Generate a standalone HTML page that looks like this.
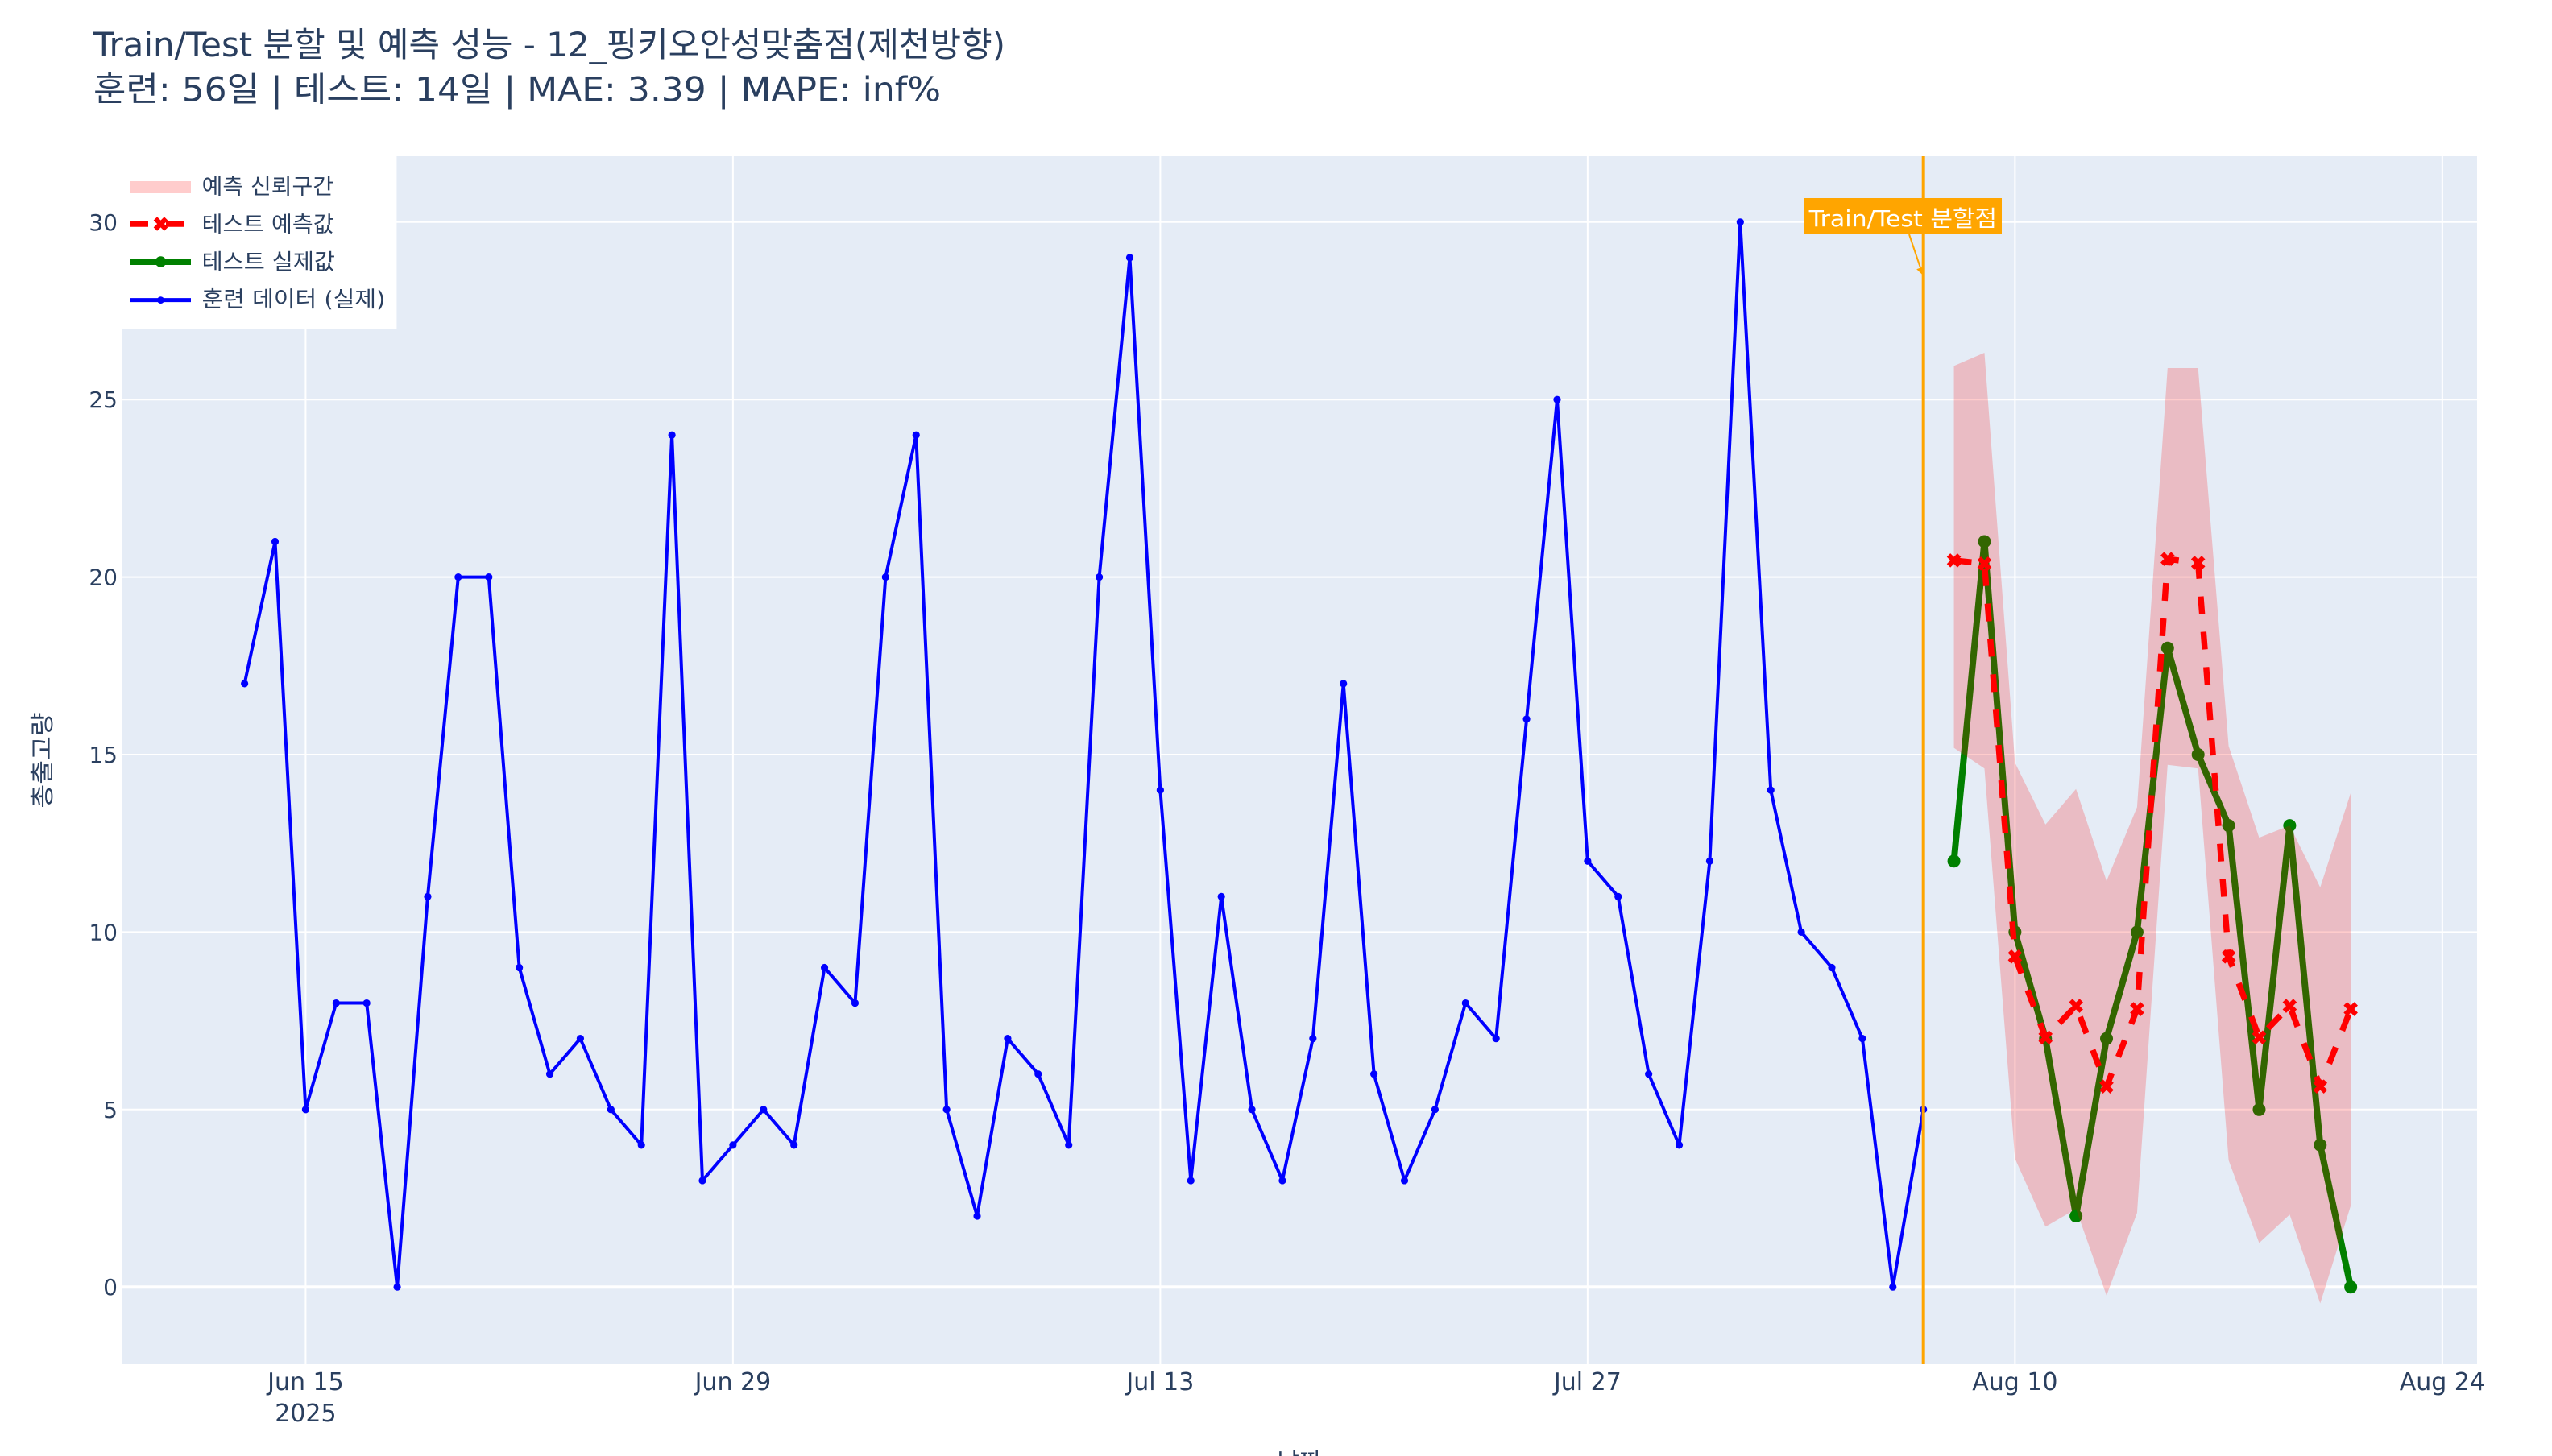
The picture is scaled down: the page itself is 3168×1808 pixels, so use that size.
<!DOCTYPE html>
<html>
<head>
<meta charset="utf-8">
<style>
html,body{margin:0;padding:0;background:#fff;}
svg{display:block;}
text{font-family:"DejaVu Sans","Noto Sans CJK KR",sans-serif;}
</style>
</head>
<body>
<svg xmlns="http://www.w3.org/2000/svg" width="3168" height="1808" viewBox="0 0 1584 904">
<defs>
<clipPath id="pc"><rect x="75.5" y="97" width="1462" height="750"/></clipPath>
<path id="xm" d="M0,2.2l2.2,2.2l2.2,-2.2l-2.2,-2.2l2.2,-2.2l-2.2,-2.2l-2.2,2.2l-2.2,-2.2l-2.2,2.2l2.2,2.2l-2.2,2.2l2.2,2.2Z" fill="#ff0000"/>
</defs>
<rect x="0" y="0" width="1584" height="904" fill="#ffffff"/>
<!-- plot background -->
<rect x="75.5" y="97" width="1462" height="750" fill="#E5ECF6"/>
<!-- vertical grid -->
<g stroke="#ffffff" stroke-width="1">
<line x1="189.70" y1="97" x2="189.70" y2="847"/>
<line x1="454.94" y1="97" x2="454.94" y2="847"/>
<line x1="720.19" y1="97" x2="720.19" y2="847"/>
<line x1="985.43" y1="97" x2="985.43" y2="847"/>
<line x1="1250.68" y1="97" x2="1250.68" y2="847"/>
<line x1="1515.92" y1="97" x2="1515.92" y2="847"/>
<line x1="75.5" y1="688.9" x2="1537.5" y2="688.9"/>
<line x1="75.5" y1="578.7" x2="1537.5" y2="578.7"/>
<line x1="75.5" y1="468.5" x2="1537.5" y2="468.5"/>
<line x1="75.5" y1="358.3" x2="1537.5" y2="358.3"/>
<line x1="75.5" y1="248.1" x2="1537.5" y2="248.1"/>
<line x1="75.5" y1="137.9" x2="1537.5" y2="137.9"/>
</g>
<line x1="75.5" y1="799.1" x2="1537.5" y2="799.1" stroke="#ffffff" stroke-width="2"/>

<g clip-path="url(#pc)">
<!-- training line -->
<polyline fill="none" stroke="#0000ff" stroke-width="2" stroke-linejoin="round" points="151.81,424.42 170.75,336.26 189.70,688.90 208.65,622.78 227.59,622.78 246.54,799.10 265.48,556.66 284.43,358.30 303.38,358.30 322.32,600.74 341.27,666.86 360.21,644.82 379.16,688.90 398.11,710.94 417.05,270.14 436.00,732.98 454.94,710.94 473.89,688.90 492.84,710.94 511.78,600.74 530.73,622.78 549.67,358.30 568.62,270.14 587.57,688.90 606.51,755.02 625.46,644.82 644.40,666.86 663.35,710.94 682.30,358.30 701.24,159.94 720.19,490.54 739.13,732.98 758.08,556.66 777.03,688.90 795.97,732.98 814.92,644.82 833.86,424.42 852.81,666.86 871.76,732.98 890.70,688.90 909.65,622.78 928.59,644.82 947.54,446.46 966.49,248.10 985.43,534.62 1004.38,556.66 1023.32,666.86 1042.27,710.94 1061.22,534.62 1080.16,137.90 1099.11,490.54 1118.05,578.70 1137.00,600.74 1155.95,644.82 1174.89,799.10 1193.84,688.90"/>
<g fill="#0000ff">
<circle cx="151.81" cy="424.42" r="2.3"/><circle cx="170.75" cy="336.26" r="2.3"/><circle cx="189.70" cy="688.90" r="2.3"/><circle cx="208.65" cy="622.78" r="2.3"/><circle cx="227.59" cy="622.78" r="2.3"/><circle cx="246.54" cy="799.10" r="2.3"/><circle cx="265.48" cy="556.66" r="2.3"/><circle cx="284.43" cy="358.30" r="2.3"/><circle cx="303.38" cy="358.30" r="2.3"/><circle cx="322.32" cy="600.74" r="2.3"/><circle cx="341.27" cy="666.86" r="2.3"/><circle cx="360.21" cy="644.82" r="2.3"/><circle cx="379.16" cy="688.90" r="2.3"/><circle cx="398.11" cy="710.94" r="2.3"/><circle cx="417.05" cy="270.14" r="2.3"/><circle cx="436.00" cy="732.98" r="2.3"/><circle cx="454.94" cy="710.94" r="2.3"/><circle cx="473.89" cy="688.90" r="2.3"/><circle cx="492.84" cy="710.94" r="2.3"/><circle cx="511.78" cy="600.74" r="2.3"/><circle cx="530.73" cy="622.78" r="2.3"/><circle cx="549.67" cy="358.30" r="2.3"/><circle cx="568.62" cy="270.14" r="2.3"/><circle cx="587.57" cy="688.90" r="2.3"/><circle cx="606.51" cy="755.02" r="2.3"/><circle cx="625.46" cy="644.82" r="2.3"/><circle cx="644.40" cy="666.86" r="2.3"/><circle cx="663.35" cy="710.94" r="2.3"/><circle cx="682.30" cy="358.30" r="2.3"/><circle cx="701.24" cy="159.94" r="2.3"/><circle cx="720.19" cy="490.54" r="2.3"/><circle cx="739.13" cy="732.98" r="2.3"/><circle cx="758.08" cy="556.66" r="2.3"/><circle cx="777.03" cy="688.90" r="2.3"/><circle cx="795.97" cy="732.98" r="2.3"/><circle cx="814.92" cy="644.82" r="2.3"/><circle cx="833.86" cy="424.42" r="2.3"/><circle cx="852.81" cy="666.86" r="2.3"/><circle cx="871.76" cy="732.98" r="2.3"/><circle cx="890.70" cy="688.90" r="2.3"/><circle cx="909.65" cy="622.78" r="2.3"/><circle cx="928.59" cy="644.82" r="2.3"/><circle cx="947.54" cy="446.46" r="2.3"/><circle cx="966.49" cy="248.10" r="2.3"/><circle cx="985.43" cy="534.62" r="2.3"/><circle cx="1004.38" cy="556.66" r="2.3"/><circle cx="1023.32" cy="666.86" r="2.3"/><circle cx="1042.27" cy="710.94" r="2.3"/><circle cx="1061.22" cy="534.62" r="2.3"/><circle cx="1080.16" cy="137.90" r="2.3"/><circle cx="1099.11" cy="490.54" r="2.3"/><circle cx="1118.05" cy="578.70" r="2.3"/><circle cx="1137.00" cy="600.74" r="2.3"/><circle cx="1155.95" cy="644.82" r="2.3"/><circle cx="1174.89" cy="799.10" r="2.3"/><circle cx="1193.84" cy="688.90" r="2.3"/>
</g>

<!-- test actual -->
<polyline fill="none" stroke="#008000" stroke-width="4" stroke-linejoin="round" points="1212.78,534.62 1231.73,336.26 1250.68,578.70 1269.62,644.82 1288.57,755.02 1307.51,644.82 1326.46,578.70 1345.41,402.38 1364.35,468.50 1383.30,512.58 1402.24,688.90 1421.19,512.58 1440.14,710.94 1459.08,799.10"/>
<g fill="#008000">
<circle cx="1212.78" cy="534.62" r="4"/><circle cx="1231.73" cy="336.26" r="4"/><circle cx="1250.68" cy="578.70" r="4"/><circle cx="1269.62" cy="644.82" r="4"/><circle cx="1288.57" cy="755.02" r="4"/><circle cx="1307.51" cy="644.82" r="4"/><circle cx="1326.46" cy="578.70" r="4"/><circle cx="1345.41" cy="402.38" r="4"/><circle cx="1364.35" cy="468.50" r="4"/><circle cx="1383.30" cy="512.58" r="4"/><circle cx="1402.24" cy="688.90" r="4"/><circle cx="1421.19" cy="512.58" r="4"/><circle cx="1440.14" cy="710.94" r="4"/><circle cx="1459.08" cy="799.10" r="4"/>
</g>

<!-- confidence band -->
<polygon fill="rgba(255,0,0,0.2)" points="1212.78,227.16 1231.73,219.01 1250.68,473.57 1269.62,511.92 1288.57,489.88 1307.51,546.96 1326.46,501.12 1345.41,228.48 1364.35,228.48 1383.30,463.21 1402.24,520.07 1421.19,512.58 1440.14,550.93 1459.08,492.30 1459.08,748.63 1440.14,809.24 1421.19,754.14 1402.24,771.77 1383.30,720.42 1364.35,477.10 1345.41,474.89 1326.46,753.04 1307.51,804.39 1288.57,750.60 1269.62,761.63 1250.68,719.32 1231.73,477.10 1212.78,464.31"/>

<!-- prediction -->
<polyline fill="none" stroke="#ff0000" stroke-width="3.7" stroke-dasharray="11,11" stroke-linejoin="round" points="1212.78,347.94 1231.73,349.92 1250.68,593.91 1269.62,644.16 1288.57,624.54 1307.51,674.57 1326.46,626.53 1345.41,347.06 1364.35,349.48 1383.30,593.91 1402.24,644.16 1421.19,624.54 1440.14,674.57 1459.08,626.53"/>
<use href="#xm" x="1212.78" y="347.94"/><use href="#xm" x="1231.73" y="349.92"/><use href="#xm" x="1250.68" y="593.91"/><use href="#xm" x="1269.62" y="644.16"/><use href="#xm" x="1288.57" y="624.54"/><use href="#xm" x="1307.51" y="674.57"/><use href="#xm" x="1326.46" y="626.53"/><use href="#xm" x="1345.41" y="347.06"/><use href="#xm" x="1364.35" y="349.48"/><use href="#xm" x="1383.30" y="593.91"/><use href="#xm" x="1402.24" y="644.16"/><use href="#xm" x="1421.19" y="624.54"/><use href="#xm" x="1440.14" y="674.57"/><use href="#xm" x="1459.08" y="626.53"/>
</g>

<!-- split line -->
<line x1="1193.84" y1="97" x2="1193.84" y2="847" stroke="#FFA500" stroke-width="2"/>

<!-- annotation -->
<line x1="1185" y1="145.5" x2="1192" y2="166.3" stroke="#FFA500" stroke-width="1"/>
<polygon points="1193.7,171 1194.6,165.4 1189.6,167.1" fill="#FFA500"/>
<rect x="1120" y="123" width="122.5" height="22.5" fill="#FFA500"/>
<text x="1181.2" y="140.6" font-size="14" fill="#ffffff" text-anchor="middle" textLength="116.7" lengthAdjust="spacingAndGlyphs">Train/Test 분할점</text>

<!-- y tick labels -->
<g font-size="14" fill="#2a3f5f" text-anchor="end">
<text x="73" y="804.1">0</text>
<text x="73" y="693.9">5</text>
<text x="73" y="583.7">10</text>
<text x="73" y="473.5">15</text>
<text x="73" y="363.3">20</text>
<text x="73" y="253.1">25</text>
<text x="73" y="142.9">30</text>
</g>

<!-- x tick labels -->
<g font-size="15" fill="#2a3f5f" text-anchor="middle">
<text x="189.70" y="863">Jun 15</text>
<text x="189.70" y="882.5">2025</text>
<text x="454.94" y="863">Jun 29</text>
<text x="720.19" y="863">Jul 13</text>
<text x="985.43" y="863">Jul 27</text>
<text x="1250.68" y="863">Aug 10</text>
<text x="1515.92" y="863">Aug 24</text>
</g>

<!-- axis titles -->
<text transform="translate(31.5,472) rotate(-90)" font-size="15" fill="#2a3f5f" text-anchor="middle" textLength="59.6" lengthAdjust="spacingAndGlyphs">총출고량</text>
<text x="806.5" y="913" font-size="15" fill="#2a3f5f" text-anchor="middle">날짜</text>

<!-- legend -->
<rect x="75.5" y="97" width="170.7" height="107" fill="#ffffff"/>
<rect x="81" y="112.5" width="37.5" height="7.5" fill="#ffcccc"/>
<line x1="81" y1="139" x2="118.5" y2="139" stroke="#ff0000" stroke-width="3.7" stroke-dasharray="11,11"/>
<use href="#xm" x="99.75" y="139"/>
<line x1="81" y1="162.5" x2="118.5" y2="162.5" stroke="#008000" stroke-width="4"/>
<circle cx="99.75" cy="162.5" r="3.4" fill="#008000"/>
<line x1="81" y1="186.3" x2="118.5" y2="186.3" stroke="#0000ff" stroke-width="2.5"/>
<circle cx="99.75" cy="186.3" r="2.2" fill="#0000ff"/>
<g font-size="13.5" fill="#2a3f5f">
<text x="125.3" y="120.6" textLength="81.7" lengthAdjust="spacingAndGlyphs">예측 신뢰구간</text>
<text x="125.3" y="143.9" textLength="82" lengthAdjust="spacingAndGlyphs">테스트 예측값</text>
<text x="125.3" y="167.2" textLength="82.7" lengthAdjust="spacingAndGlyphs">테스트 실제값</text>
<text x="125.3" y="190.5" textLength="113.9" lengthAdjust="spacingAndGlyphs">훈련 데이터 (실제)</text>
</g>

<!-- title -->
<text x="58" y="35" font-size="21" fill="#2a3f5f" textLength="566" lengthAdjust="spacingAndGlyphs">Train/Test 분할 및 예측 성능 - 12_핑키오안성맞춤점(제천방향)</text>
<text x="58" y="62.8" font-size="21" fill="#2a3f5f" textLength="526" lengthAdjust="spacingAndGlyphs">훈련: 56일 | 테스트: 14일 | MAE: 3.39 | MAPE: inf%</text>
</svg>
</body>
</html>
